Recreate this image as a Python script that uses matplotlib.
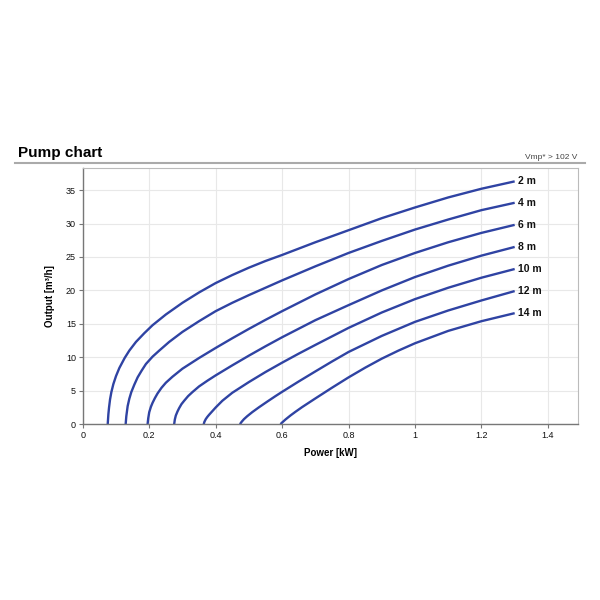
import matplotlib
matplotlib.use('Agg')
import matplotlib.pyplot as plt
from matplotlib.lines import Line2D

plt.rcParams['font.family'] = ['Liberation Sans', 'DejaVu Sans']

# head labels and points (Power [kW], Output [m3/h])
heads = ['2 m', '4 m', '6 m', '8 m', '10 m', '12 m', '14 m']

power_2m = [0.075, 0.077, 0.079, 0.082, 0.086, 0.092, 0.1, 0.11, 0.126, 0.14, 0.16, 0.185, 0.21,
            0.25, 0.3, 0.35, 0.4, 0.45, 0.5, 0.55, 0.6, 0.7, 0.8, 0.9, 1.0, 1.1, 1.2, 1.3]
output_2m = [0, 1.5, 2.5, 3.7, 4.8, 6.0, 7.2, 8.4, 9.9, 11.0, 12.3, 13.6, 14.8,
             16.4, 18.15, 19.7, 21.1, 22.3, 23.4, 24.4, 25.3, 27.2, 29.0, 30.8, 32.4, 33.9, 35.2, 36.3]

power_4m = [0.129, 0.131, 0.135, 0.14, 0.146, 0.155, 0.165, 0.177, 0.19, 0.21, 0.23, 0.26, 0.3,
            0.35, 0.4, 0.45, 0.5, 0.55, 0.6, 0.7, 0.8, 0.9, 1.0, 1.1, 1.2, 1.3]
output_4m = [0, 1.2, 2.7, 3.8, 4.8, 5.9, 7.0, 8.0, 9.0, 10.1, 11.0, 12.3, 13.8,
             15.4, 16.9, 18.15, 19.3, 20.4, 21.5, 23.6, 25.6, 27.4, 29.1, 30.6, 32.0, 33.1]

power_6m = [0.195, 0.197, 0.2, 0.205, 0.21, 0.217, 0.225, 0.237, 0.25, 0.27, 0.3,
            0.35, 0.4, 0.45, 0.5, 0.55, 0.6, 0.7, 0.8, 0.9, 1.0, 1.1, 1.2, 1.3]
output_6m = [0, 0.9, 1.8, 2.6, 3.2, 3.9, 4.6, 5.45, 6.2, 7.1, 8.3,
             9.9, 11.4, 12.85, 14.25, 15.6, 16.9, 19.4, 21.7, 23.8, 25.6, 27.2, 28.6, 29.8]

power_8m = [0.275, 0.277, 0.28, 0.285, 0.29, 0.297, 0.305, 0.317, 0.33, 0.35, 0.375,
            0.4, 0.45, 0.5, 0.55, 0.6, 0.7, 0.8, 0.9, 1.0, 1.1, 1.2, 1.3]
output_8m = [0, 0.7, 1.3, 1.9, 2.4, 3.0, 3.5, 4.2, 4.8, 5.65, 6.5,
             7.3, 8.8, 10.25, 11.65, 13.0, 15.55, 17.8, 20.0, 22.0, 23.7, 25.2, 26.5]

power_10m = [0.364, 0.366, 0.37, 0.375, 0.38, 0.39, 0.4, 0.42, 0.45, 0.5, 0.55,
             0.6, 0.65, 0.7, 0.8, 0.9, 1.0, 1.1, 1.2, 1.3]
output_10m = [0, 0.35, 0.75, 1.1, 1.4, 1.95, 2.5, 3.5, 4.7, 6.3, 7.8,
              9.2, 10.55, 11.85, 14.4, 16.7, 18.7, 20.4, 21.9, 23.2]

power_12m = [0.473, 0.478, 0.485, 0.495, 0.51, 0.53, 0.555, 0.58, 0.6, 0.65, 0.7,
             0.75, 0.8, 0.9, 1.0, 1.1, 1.2, 1.3]
output_12m = [0, 0.35, 0.75, 1.2, 1.8, 2.52, 3.37, 4.2, 4.84, 6.39, 7.89,
              9.37, 10.8, 13.2, 15.3, 17.0, 18.5, 19.9]

power_14m = [0.595, 0.6, 0.61, 0.625, 0.64, 0.66, 0.68, 0.7, 0.75, 0.8, 0.85,
             0.9, 0.95, 1.0, 1.1, 1.2, 1.3]
output_14m = [0, 0.25, 0.7, 1.3, 1.85, 2.55, 3.2, 3.85, 5.45, 7.0, 8.45,
              9.8, 11.0, 12.1, 13.95, 15.4, 16.6]

curves = [(power_2m, output_2m), (power_4m, output_4m), (power_6m, output_6m),
          (power_8m, output_8m), (power_10m, output_10m), (power_12m, output_12m),
          (power_14m, output_14m)]

x_ticks = [0, 0.2, 0.4, 0.6, 0.8, 1, 1.2, 1.4]
x_tick_labels = ['0', '0.2', '0.4', '0.6', '0.8', '1', '1.2', '1.4']
y_ticks = [0, 5, 10, 15, 20, 25, 30, 35]

line_color = '#2f43a3'

fig = plt.figure(figsize=(6, 6), dpi=100)
ax = fig.add_axes([0.138, 0.293, 0.825, 0.427])

for (px, py), name in zip(curves, heads):
    ax.plot(px, py, color=line_color, lw=1.7, solid_capstyle='butt', solid_joinstyle='round')
    ax.text(px[-1] + 0.01, py[-1], name, fontsize=7.5, fontweight='bold',
            va='center', ha='left', color='#111111')

ax.set_xlim(0, 1.49)
ax.set_ylim(0, 38.3)
ax.set_xticks(x_ticks)
ax.set_xticklabels(x_tick_labels)
ax.set_yticks(y_ticks)
ax.grid(True, color='#e8e8e8', lw=0.8)
ax.set_axisbelow(True)
ax.tick_params(labelsize=6.5, colors='#111111', length=3, width=0.8, pad=2)
ax.tick_params(color='#777777')

for side in ['top', 'right']:
    ax.spines[side].set_color('#bbbbbb')
    ax.spines[side].set_linewidth(0.8)
for side in ['left', 'bottom']:
    ax.spines[side].set_color('#777777')
    ax.spines[side].set_linewidth(1.0)

ax.set_xlabel('Power [kW]', fontsize=7, fontweight='bold', labelpad=6)
ax.set_ylabel('Output [m³/h]', fontsize=7, fontweight='bold', labelpad=8)

# header: title, rule line and voltage note
fig.text(0.03, 0.738, 'Pump chart', fontsize=11, fontweight='bold', ha='left', va='baseline')
fig.text(0.963, 0.735, 'Vmp* > 102 V', fontsize=6, color='#444444', ha='right', va='baseline')
fig.add_artist(Line2D([0.025, 0.975], [0.728, 0.728], color='#aaaaaa', lw=1.5))

fig.savefig('out.png', dpi=100, facecolor='white')
